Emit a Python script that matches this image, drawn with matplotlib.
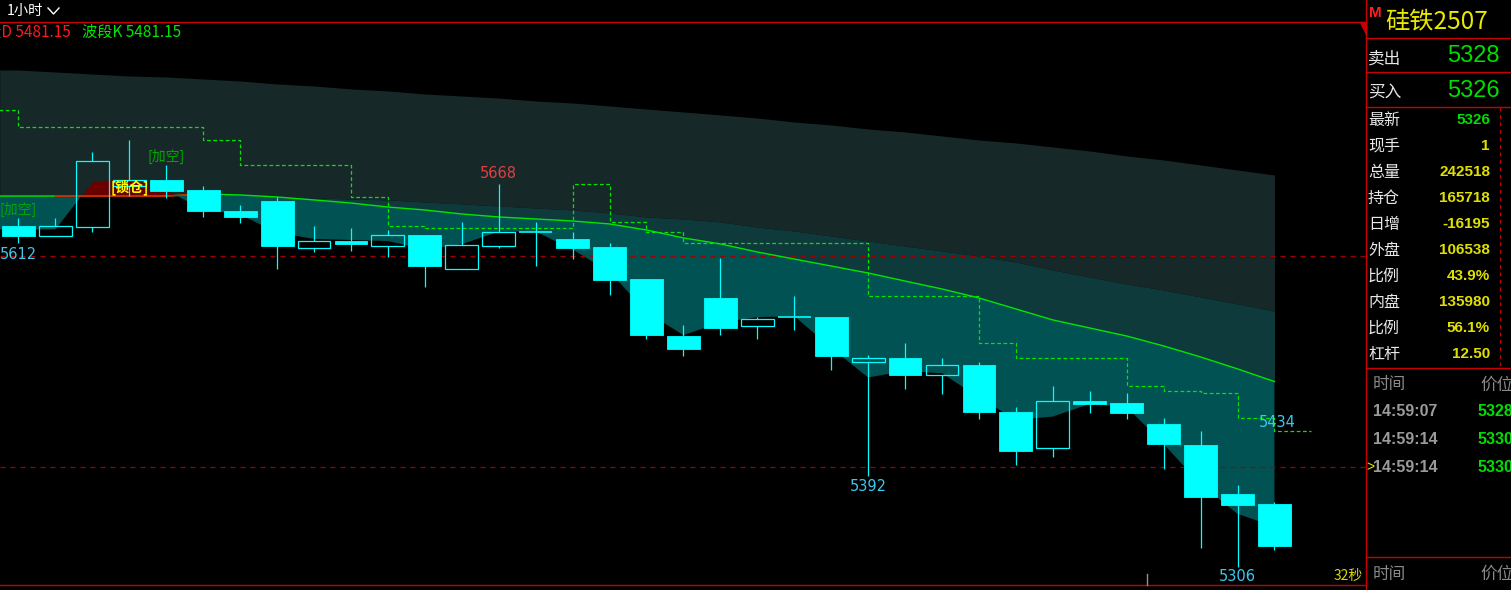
import numpy as np
import matplotlib
matplotlib.use('Agg')
import matplotlib.pyplot as plt
from matplotlib.lines import Line2D
from matplotlib.patches import Polygon

plt.rcParams['font.family'] = ['Noto Sans CJK SC', 'DejaVu Sans']

W, H = 1511, 590

# 1 hour bars of 硅铁2507
opens  = [5628, 5619, 5627, 5666, 5672, 5662, 5642, 5652, 5607, 5614, 5609, 5620,
          5588, 5609, 5623, 5616, 5608, 5578, 5524, 5560, 5534, 5542, 5542, 5500,
          5503, 5487, 5497, 5452, 5418, 5463, 5461, 5441, 5421, 5375, 5365]
highs  = [5636, 5636, 5698, 5710, 5686, 5666, 5648, 5656, 5628, 5626, 5624, 5620,
          5632, 5668, 5632, 5623, 5612, 5578, 5535, 5598, 5542, 5562, 5542, 5506,
          5518, 5503, 5500, 5457, 5477, 5472, 5470, 5447, 5434, 5383, 5367]
lows   = [5612, 5619, 5623, 5657, 5655, 5637, 5631, 5588, 5604, 5605, 5599, 5571,
          5588, 5607, 5590, 5597, 5563, 5521, 5505, 5525, 5521, 5530, 5492, 5392,
          5474, 5469, 5446, 5402, 5410, 5451, 5446, 5398, 5324, 5306, 5322]
closes = [5619, 5628, 5690, 5672, 5661, 5642, 5637, 5609, 5614, 5611, 5620, 5590,
          5610, 5623, 5623, 5607, 5577, 5525, 5512, 5532, 5540, 5542, 5505, 5503,
          5487, 5497, 5452, 5415, 5463, 5460, 5451, 5422, 5372, 5364, 5326]

# fast curve (lower edge of the cloud)
fast = [5625, 5625, 5670, 5674, 5662, 5644, 5639, 5622, 5616, 5615, 5614, 5606,
        5611, 5623, 5623, 5606, 5585, 5547, 5525, 5537, 5542, 5543, 5513, 5485,
        5491, 5489, 5466, 5445, 5448, 5460, 5457, 5422, 5384, 5356, 5344]
# 波段K line
slow = [5656.6, 5656.6, 5656.6, 5656.6, 5656.6, 5658.5, 5657.6, 5655.7, 5652.9,
        5650.0, 5646.2, 5643.4, 5639.6, 5636.8, 5634.9, 5633.0, 5630.2, 5624.5,
        5617.0, 5611.3, 5603.7, 5597.0, 5590.4, 5583.8, 5576.2, 5568.7, 5560.2,
        5549.8, 5539.4, 5531.8, 5524.2, 5514.8, 5504.4, 5493.1, 5481.15]
# middle band edge
mid = [5656.6, 5656.6, 5656.6, 5656.6, 5656.6, 5658.5, 5657.6, 5656.0, 5654.8,
       5653.8, 5652.9, 5651.0, 5649.1, 5647.2, 5645.3, 5643.4, 5640.6, 5636.8,
       5634.9, 5632.1, 5627.3, 5623.5, 5618.8, 5614.1, 5609.3, 5604.6, 5599.9,
       5594.2, 5586.6, 5580.0, 5573.4, 5567.7, 5561.1, 5554.5, 5547.8]
# upper band edge
top = [5775.8, 5773.9, 5772.0, 5770.1, 5769.2, 5767.3, 5765.4, 5762.6, 5760.7,
       5757.9, 5756.0, 5753.1, 5751.2, 5749.3, 5746.5, 5744.6, 5741.8, 5738.9,
       5736.1, 5733.3, 5730.4, 5726.6, 5723.8, 5720.0, 5717.2, 5713.4, 5709.6,
       5706.8, 5703.0, 5699.2, 5694.5, 5690.7, 5686.0, 5681.2, 5676.5]

# dashed step line
step_x = [-1, 0, 5, 6, 9, 10, 11, 15, 16, 17, 18, 23, 26, 27, 30, 31, 32, 33, 34, 35]
step_v = [5738, 5722, 5710, 5686, 5656, 5628, 5626, 5668, 5632, 5623, 5612, 5562,
          5518, 5503, 5477, 5472, 5470, 5447, 5434, 5434]

hlines_red = [5600, 5400]

panel_rows = ['最新', '现手', '总量', '持仓', '日增', '外盘', '比例', '内盘', '比例', '杠杆']
panel_vals = ['5326', '1', '242518', '165718', '-16195', '106538', '43.9%', '135980', '56.1%', '12.50']
ticks_time = ['14:59:07', '14:59:14', '14:59:14']
ticks_price = ['5328', '5330', '5330']

RED = '#c80000'
CYAN = '#00ffff'

fig = plt.figure(figsize=(W / 100, H / 100), dpi=100, facecolor='black')


def fx(x):
    return x / W


def fy(y):
    return 1 - y / H


ax = fig.add_axes([0, 5 / H, 1366 / W, 563 / H])
ax.set_facecolor('black')
ax.set_xlim(-0.5008, 36.478)
ax.set_ylim(5288.7, 5821.2)
ax.axis('off')

idx = np.arange(len(opens))
xf = np.r_[-0.51, idx]
topf = np.r_[top[0], top]
midf = np.r_[mid[0], mid]
slowf = np.r_[slow[0], slow]
fastf = np.r_[fast[0], fast]

ax.fill_between(xf, topf, midf, color='#172828', lw=0, zorder=1)
ax.fill_between(xf, midf, slowf, where=midf >= slowf, color='#0f3a3b', lw=0, zorder=1)
ax.fill_between(xf, slowf, fastf, where=fastf <= slowf, interpolate=True,
                color='#015253', lw=0, zorder=1)
ax.fill_between(xf, slowf, fastf, where=fastf > slowf, interpolate=True,
                color='#6a0000', lw=0, zorder=1)

for v in hlines_red:
    ax.axhline(v, color='#a00000', lw=0.9, ls=(0, (4, 4)), zorder=2)

ax.step(step_x, step_v, where='post', color='#00e600', lw=0.9, ls=(0, (3, 2)), zorder=2)

ax.plot(xf, slowf, color='#00e600', lw=1.0, zorder=3)
ax.plot(idx[1:6], slow[1:6], color='#ff0000', lw=1.0, zorder=3)

# candles
bw = 0.89
for i in idx:
    o, h, l, c = opens[i], highs[i], lows[i], closes[i]
    bt, bb = max(o, c), min(o, c)
    ax.vlines(i, bt, h, color=CYAN, lw=0.9, zorder=4)
    ax.vlines(i, l, bb, color=CYAN, lw=0.9, zorder=4)
    if abs(c - o) < 0.5:
        ax.hlines(o, i - bw / 2, i + bw / 2, color=CYAN, lw=1.2, zorder=4)
    elif c > o:
        ax.bar(i, bt - bb, bottom=bb, width=bw, facecolor='none', edgecolor=CYAN,
               lw=0.9, zorder=4)
    else:
        ax.bar(i, bt - bb, bottom=bb, width=bw, color=CYAN, edgecolor=CYAN,
               lw=0.6, zorder=4)

lab = dict(textcoords='offset points', ha='center', va='center', fontsize=10.5,
           zorder=6, family=['DejaVu Sans'])
ax.annotate('5612', (0, lows[0]), xytext=(0, -8), color='#3cc8ee', **lab)
ax.annotate('5668', (13, highs[13]), xytext=(0, 7.5), color='#e04040', **lab)
ax.annotate('5392', (23, lows[23]), xytext=(0, -7.5), color='#3cc8ee', **lab)
ax.annotate('5306', (33, lows[33]), xytext=(0, -7), color='#3cc8ee', **lab)
ax.annotate('5434', (33.58, step_v[-1]), xytext=(0, 6.5), color='#3cc8ee',
            textcoords='offset points', ha='left', va='center', fontsize=10.5,
            zorder=6, family=['DejaVu Sans'])

sig = dict(textcoords='offset points', ha='center', va='center', fontsize=10, zorder=6)
ax.annotate('[加空]', (0, highs[0]), xytext=(0, 6), color='#00a800', **sig)
ax.annotate('[加空]', (4, highs[4]), xytext=(0, 6), color='#00a800', **sig)
ax.annotate('[锁仓]', (3, closes[3]), xytext=(0, -5.5), color='#ffff00',
            fontweight='bold', **sig)

# frame lines
def fline(xs, ys, **kw):
    fig.add_artist(Line2D([fx(x) for x in xs], [fy(y) for y in ys], **kw))


fline([0, 1366], [22, 22], color=RED, lw=1)
fline([0, 1366], [585, 585], color=RED, lw=1)
fline([1366, 1366], [0, 590], color=RED, lw=1)
for yy in [38, 72, 107, 368, 557]:
    fline([1366, 1511], [yy, yy], color=RED, lw=1)
fline([1500, 1500], [107, 368], color=RED, lw=0.9, ls=(0, (3, 3)))
fig.add_artist(Polygon([(fx(1360), fy(22)), (fx(1366), fy(22)), (fx(1366), fy(34))],
                       closed=True, color=RED))
fline([1147, 1147], [574, 585], color='#909090', lw=1)
fline([48, 53.5, 59], [8, 14, 8], color='white', lw=1)

# header texts (the 波段D label is cut by the left edge, as in the terminal)
fig.text(fx(7), fy(11), '1小时', color='white', fontsize=10.3, va='center')
fig.text(fx(71), fy(32), '波段D 5481.15', color='#ff1a1a', fontsize=11, va='center', ha='right')
fig.text(fx(82), fy(32), '波段K 5481.15', color='#00e600', fontsize=11, va='center')
fig.text(fx(1363), fy(576), '32秒', color='#d8d800', fontsize=10, va='center', ha='right')

# right panel
fig.text(fx(1369), fy(13), 'M', color='#ff2020', fontsize=11, fontweight='bold',
         va='center', family=['Liberation Sans'])
fig.text(fx(1385), fy(21), '硅铁2507', color='#e8e800', fontsize=17.5, va='center')
fig.text(fx(1368), fy(59), '卖出', color='#e8e8e8', fontsize=12, va='center')
fig.text(fx(1368), fy(93), '买入', color='#e8e8e8', fontsize=12, va='center')
fig.text(fx(1500), fy(56), '5328', color='#00dd00', fontsize=17, va='center', ha='right',
         family=['Liberation Sans'])
fig.text(fx(1500), fy(91), '5326', color='#00dd00', fontsize=17, va='center', ha='right',
         family=['Liberation Sans'])

for k, (name, val) in enumerate(zip(panel_rows, panel_vals)):
    yy = 120 + k * 26
    fig.text(fx(1368), fy(yy), name, color='#e8e8e8', fontsize=11.5, va='center')
    fig.text(fx(1490), fy(yy), val, color='#00dd00' if k == 0 else '#e0e000',
             fontsize=11, fontweight='bold', va='center', ha='right',
             family=['Liberation Sans'])

for yy in [385, 574]:
    fig.text(fx(1373), fy(yy), '时间', color='#8a8a8a', fontsize=12, va='center')
    fig.text(fx(1480), fy(yy), '价位', color='#8a8a8a', fontsize=12, va='center')

for k, (t, p) in enumerate(zip(ticks_time, ticks_price)):
    yy = 411 + k * 28
    fig.text(fx(1373), fy(yy), t, color='#9a9a9a', fontsize=11.5, fontweight='bold',
             va='center', family=['Liberation Sans'])
    fig.text(fx(1478), fy(yy), p, color='#00dd00', fontsize=11.5, fontweight='bold',
             va='center', family=['Liberation Sans'])
fig.text(fx(1366), fy(467), '>', color='#e8e800', fontsize=10, va='center',
         family=['Liberation Sans'])

fig.savefig('out.png', dpi=100, facecolor='black')
